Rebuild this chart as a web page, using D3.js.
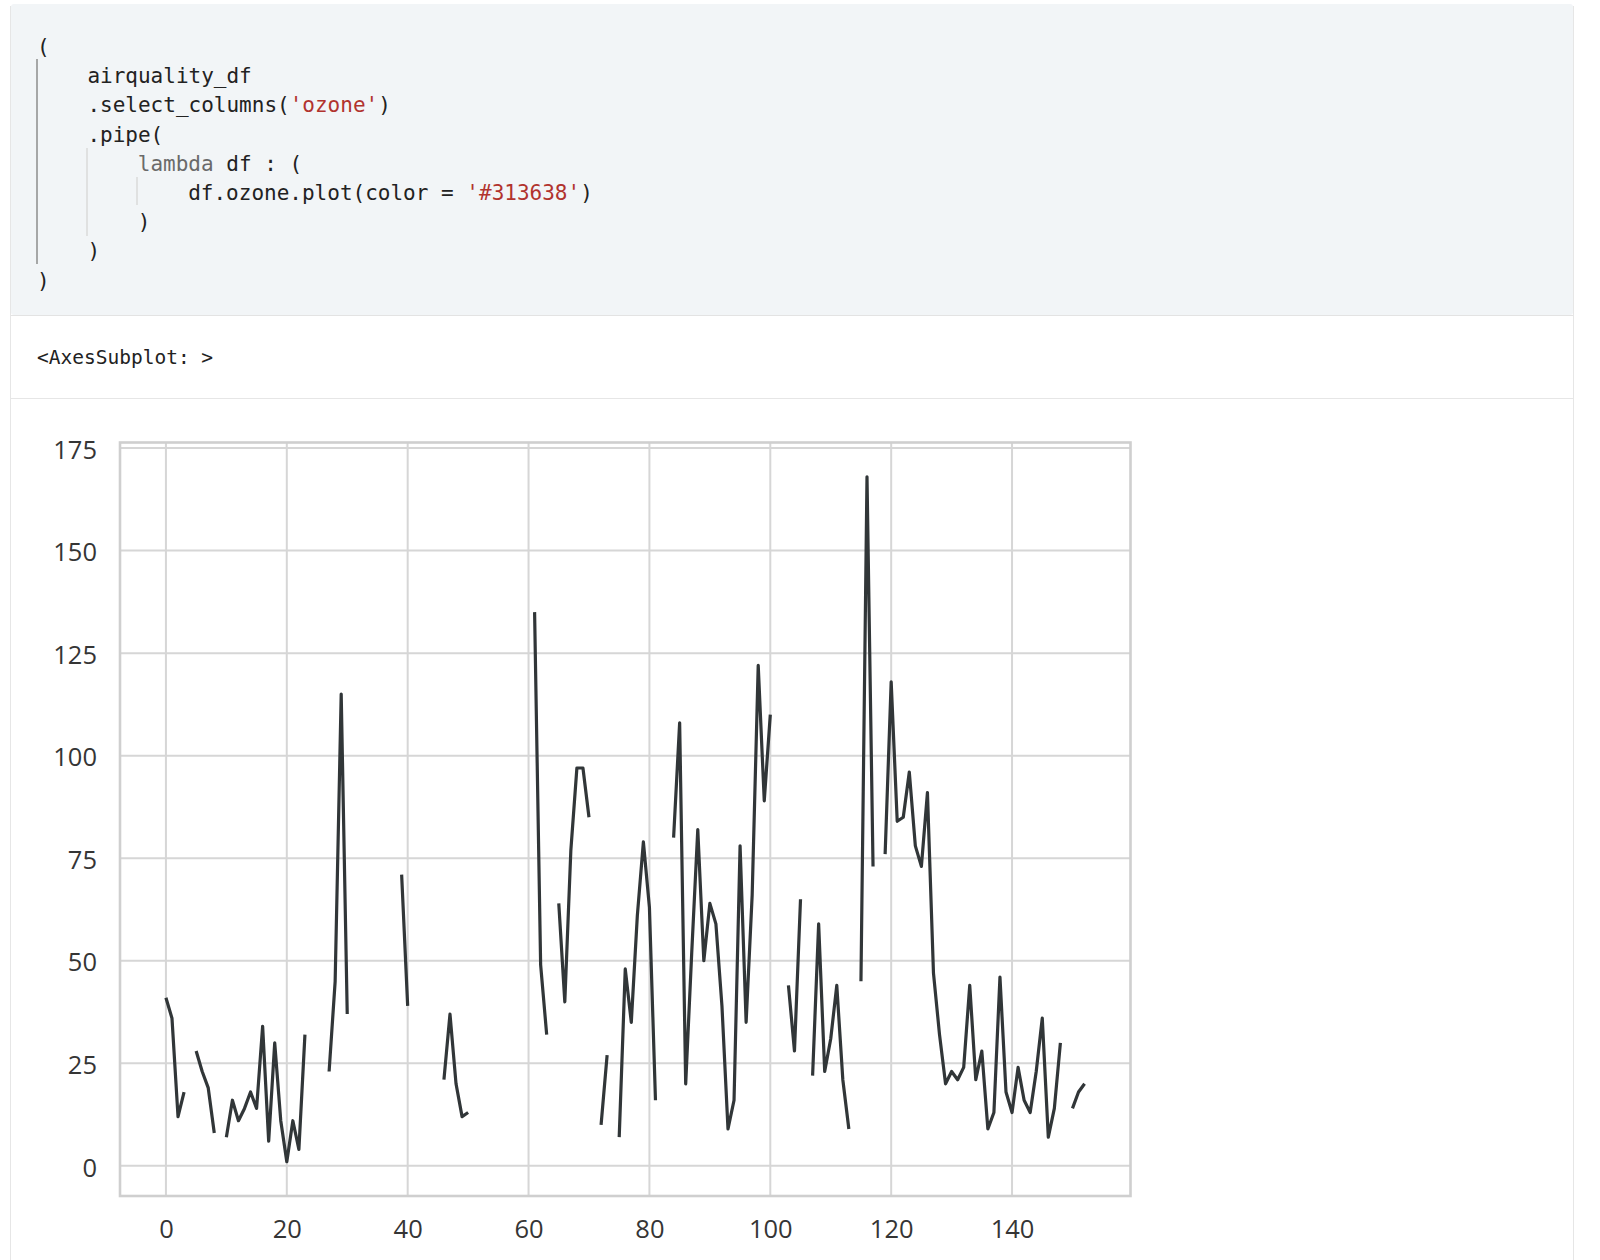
<!DOCTYPE html>
<html>
<head>
<meta charset="utf-8">
<script src="https://cdn.jsdelivr.net/npm/d3@7"></script>
<style>
  body { margin: 0; background: #fff; }
  svg { display: block; }
  .code { font-family: "DejaVu Sans Mono", monospace; font-size: 21px; fill: #222; }
  .str { fill: #b1332e; }
  .kw { fill: #6a6a6a; }
  .tick text { font-family: "Open Sans", sans-serif; font-size: 25.5px; fill: #353535; }
</style>
</head>
<body>
<svg id="page"></svg>
<script>
// airquality ozone column, null = NaN
const ozone = [
  41, 36, 12, 18, null, 28, 23, 19, 8, null,
  7, 16, 11, 14, 18, 14, 34, 6, 30, 11,
  1, 11, 4, 32, null, null, null, 23, 45, 115,
  37, null, null, null, null, null, null, 29, null, 71,
  39, null, null, 23, null, null, 21, 37, 20, 12,
  13, null, null, null, null, null, null, null, null, null,
  null, 135, 49, 32, null, 64, 40, 77, 97, 97,
  85, null, 10, 27, null, 7, 48, 35, 61, 79,
  63, 16, null, null, 80, 108, 20, 52, 82, 50,
  64, 59, 39, 9, 16, 78, 35, 66, 122, 89,
  110, null, null, 44, 28, 65, null, 22, 59, 23,
  31, 44, 21, 9, null, 45, 168, 73, null, 76,
  118, 84, 85, 96, 78, 73, 91, 47, 32, 20,
  23, 21, 24, 44, 21, 28, 9, 13, 46, 18,
  13, 24, 16, 13, 23, 36, 7, 14, 30, null,
  14, 18, 20
];
const xTicks = [0, 20, 40, 60, 80, 100, 120, 140];
const yTicks = [0, 25, 50, 75, 100, 125, 150, 175];

const codeLines = [
  [0, [["(", ""]]],
  [1, [["airquality_df", ""]]],
  [1, [[".select_columns(", ""], ["'ozone'", "str"], [")", ""]]],
  [1, [[".pipe(", ""]]],
  [2, [["lambda", "kw"], [" df : (", ""]]],
  [3, [["df.ozone.plot(color = ", ""], ["'#313638'", "str"], [")", ""]]],
  [2, [[")", ""]]],
  [1, [[")", ""]]],
  [0, [[")", ""]]]
];

const W = 1600, H = 1260;
const svg = d3.select("#page").attr("width", W).attr("height", H);

// notebook cell frame
svg.append("rect").attr("x", 11).attr("y", 4).attr("width", 1562).attr("height", 311)
  .attr("fill", "#f2f5f7").attr("rx", 3);
svg.append("line").attr("x1", 10.5).attr("x2", 10.5).attr("y1", 6).attr("y2", H)
  .attr("stroke", "#e6e6e6").attr("stroke-width", 1);
svg.append("line").attr("x1", 1573.5).attr("x2", 1573.5).attr("y1", 6).attr("y2", H)
  .attr("stroke", "#e6e6e6").attr("stroke-width", 1);
svg.append("line").attr("x1", 11).attr("x2", 1573).attr("y1", 315.5).attr("y2", 315.5)
  .attr("stroke", "#e3e3e3");
svg.append("line").attr("x1", 11).attr("x2", 1573).attr("y1", 398.5).attr("y2", 398.5)
  .attr("stroke", "#e6e6e6");

// indent guides
const guides = [[37, 59, 264, "#8c8c8c"], [87, 148, 236, "#dadada"], [137, 177, 205, "#dadada"]];
svg.selectAll(".guide").data(guides).join("line").attr("class", "guide")
  .attr("x1", d => d[0]).attr("x2", d => d[0]).attr("y1", d => d[1]).attr("y2", d => d[2])
  .attr("stroke", d => d[3]).attr("stroke-width", 1.5);

const code = svg.append("g").attr("class", "code");
codeLines.forEach((ln, i) => {
  const t = code.append("text").attr("x", 37 + ln[0] * 50.4).attr("y", 54 + i * 29.2)
    .attr("xml:space", "preserve");
  ln[1].forEach(p => t.append("tspan").attr("class", p[1] || null).text(p[0]));
});

svg.append("text").attr("class", "code").attr("x", 37).attr("y", 364)
  .style("font-size", "19.5px").attr("xml:space", "preserve").text("<AxesSubplot: >");

// chart
const x = d3.scaleLinear().domain([-7.6, 159.6]).range([120, 1130.5]);
const y = d3.scaleLinear().domain([-7.35, 176.35]).range([1196, 442.5]);

const chart = svg.append("g");

chart.append("g").selectAll("line").data(yTicks).join("line")
  .attr("x1", x.range()[0]).attr("x2", x.range()[1])
  .attr("y1", d => y(d)).attr("y2", d => y(d))
  .attr("stroke", "#d6d6d6").attr("stroke-width", 2);
chart.append("g").selectAll("line").data(xTicks).join("line")
  .attr("y1", y.range()[0]).attr("y2", y.range()[1])
  .attr("x1", d => x(d)).attr("x2", d => x(d))
  .attr("stroke", "#d6d6d6").attr("stroke-width", 2);

const line = d3.line()
  .defined(d => d != null)
  .x((d, i) => x(i))
  .y(d => y(d));
chart.append("path").datum(ozone).attr("d", line)
  .attr("fill", "none").attr("stroke", "#313638").attr("stroke-width", 3.2)
  .attr("stroke-linejoin", "round");

chart.append("rect").attr("x", 120).attr("y", 442.5).attr("width", 1010.5).attr("height", 753.5)
  .attr("fill", "none").attr("stroke", "#cfcfcf").attr("stroke-width", 2.6);

const xAxis = chart.append("g").attr("transform", "translate(0,1196)")
  .call(d3.axisBottom(x).tickValues(xTicks).tickSize(0).tickPadding(24));
const yAxis = chart.append("g").attr("transform", "translate(120,2)")
  .call(d3.axisLeft(y).tickValues(yTicks).tickSize(0).tickPadding(23));
[xAxis, yAxis].forEach(a => { a.select(".domain").remove(); a.selectAll(".tick line").remove(); });
</script>
</body>
</html>
